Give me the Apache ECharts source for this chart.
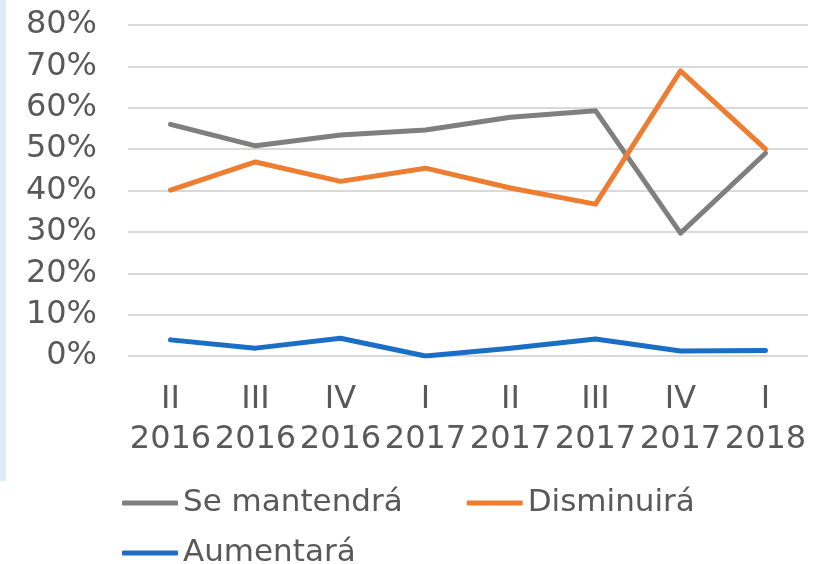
<!DOCTYPE html>
<html>
<head>
<meta charset="utf-8">
<script src="https://cdn.jsdelivr.net/npm/echarts@6/dist/echarts.min.js"></script>
<style>
  html, body { margin: 0; padding: 0; background: #fff; }
  #chart { width: 813px; height: 564px; }
</style>
</head>
<body>
<div id="chart"></div>
<script>
// quarters on the x axis (two-line labels)
const categories = ["II\n2016", "III\n2016", "IV\n2016", "I\n2017", "II\n2017", "III\n2017", "IV\n2017", "I\n2018"];

// percentages
const seMantendra = [56.0, 50.8, 53.4, 54.6, 57.7, 59.3, 29.7, 49.0];
const disminuira  = [40.1, 46.9, 42.2, 45.4, 40.6, 36.7, 68.9, 50.0];
const aumentara   = [3.9, 1.9, 4.3, 0.0, 1.9, 4.1, 1.2, 1.3];

const yTicks = { min: 0, max: 80, interval: 10 };

const TEXT = "#595959";
const FONT = "'DejaVu Sans', Verdana, sans-serif";

const chart = echarts.init(document.getElementById("chart"));

function lineSeries(name, data, color) {
    return {
        name,
        type: "line",
        data,
        symbol: "none",
        lineStyle: { width: 5, color, cap: "round", join: "round" },
        itemStyle: { color },
        animation: false,
    };
}

const legendCommon = {
    left: 122,
    padding: 0,
    orient: "horizontal",
    icon: "roundRect",
    itemWidth: 56,
    itemHeight: 5,
    itemGap: 64,
    textStyle: { fontFamily: FONT, fontSize: 31, color: TEXT, lineHeight: 36 },
    selectedMode: false,
};

chart.setOption({
    backgroundColor: "#fff",
    animation: false,
    graphic: [
        // light blue strip on the left edge
        { type: "rect", left: 0, top: 0, shape: { width: 6, height: 481 }, style: { fill: "#dbeef8" }, silent: true },
    ],
    grid: { left: 128, right: 5, top: 25, bottom: 208, containLabel: false },
    legend: [
        { ...legendCommon, top: 485, data: ["Se mantendrá", "Disminuirá"] },
        { ...legendCommon, top: 535, data: ["Aumentará"] },
    ],
    xAxis: {
        type: "category",
        data: categories,
        boundaryGap: true,
        axisLine: { show: false },
        axisTick: { show: false },
        axisLabel: {
            interval: 0,
            margin: 24,
            fontFamily: FONT,
            fontSize: 32,
            lineHeight: 40,
            color: TEXT,
        },
    },
    yAxis: {
        type: "value",
        min: yTicks.min,
        max: yTicks.max,
        interval: yTicks.interval,
        axisLine: { show: false },
        axisTick: { show: false },
        splitLine: { lineStyle: { color: "#d9d9d9", width: 2 } },
        axisLabel: {
            margin: 31,
            fontFamily: FONT,
            fontSize: 32,
            color: TEXT,
            formatter: "{value}%",
        },
    },
    series: [
        lineSeries("Se mantendrá", seMantendra, "#7f7f7f"),
        lineSeries("Disminuirá", disminuira, "#ed7d31"),
        lineSeries("Aumentará", aumentara, "#1a6ec6"),
    ],
});
</script>
</body>
</html>
